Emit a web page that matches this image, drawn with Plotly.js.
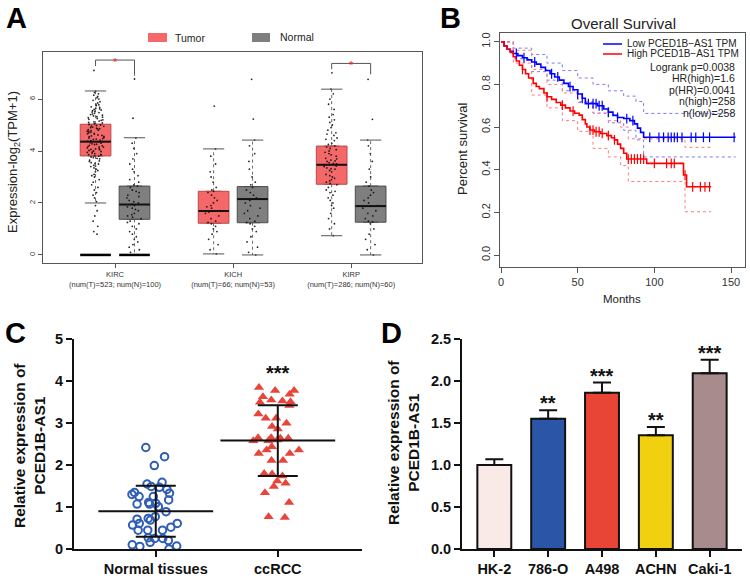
<!DOCTYPE html>
<html>
<head>
<meta charset="utf-8">
<script src="https://cdn.plot.ly/plotly-3.0.1.min.js"></script>
<style>html,body{margin:0;padding:0;background:#fff;}#chart{width:750px;height:578px;}</style>
</head>
<body>
<div id="chart"></div>
<script>
// ---------------- DATA ----------------
// Panel A (GEPIA box plots)
var cancerTypes = ["KIRC", "KICH", "KIRP"];
var cancerCounts = ["(num(T)=523; num(N)=100)", "(num(T)=66; num(N)=53)", "(num(T)=286; num(N)=60)"];
var tumorQ1 = [3.81, 1.22, 2.72];
var tumorMed = [4.36, 1.69, 3.47];
var tumorQ3 = [5.03, 2.45, 4.19];
var tumorUp = [6.31, 4.08, 6.38];
var tumorLo = [2.0, 0.04, 0.74];
var normalQ1 = [1.37, 1.24, 1.26];
var normalMed = [1.94, 2.15, 1.88];
var normalQ3 = [2.65, 2.63, 2.65];
var normalUp = [4.51, 4.42, 4.42];
var normalLo = [0, 0, 0];
var kircT = [7.1, 6.3, 6.25, 6.2, 6.15, 6.1, 6.05, 6.0, 5.95, 5.9, 5.85, 5.8, 5.78, 5.75, 5.7, 5.68, 5.65, 5.6, 5.58, 5.55, 5.5, 5.48, 5.45, 5.4, 5.38, 5.35, 5.3, 5.28, 5.25, 5.2, 5.18, 5.15, 5.1, 5.08, 5.05, 5.02, 5.0, 4.98, 4.95, 4.92, 4.9, 4.88, 4.85, 4.82, 4.8, 4.78, 4.75, 4.72, 4.7, 4.68, 4.65, 4.62, 4.6, 4.58, 4.55, 4.52, 4.5, 4.48, 4.45, 4.42, 4.4, 4.38, 4.35, 4.32, 4.3, 4.28, 4.25, 4.22, 4.2, 4.18, 4.15, 4.12, 4.1, 4.08, 4.05, 4.02, 4.0, 3.98, 3.95, 3.92, 3.9, 3.87, 3.85, 3.82, 3.8, 3.77, 3.75, 3.7, 3.65, 3.6, 3.55, 3.5, 3.45, 3.4, 3.35, 3.3, 3.25, 3.2, 3.1, 3.05, 3.0, 2.9, 2.8, 2.7, 2.6, 2.5, 2.4, 2.3, 2.2, 2.05, 1.9, 1.7, 1.5, 1.3, 1.1, 0.9, 0.8, 4.96, 4.86, 4.76, 4.66, 4.56, 4.46, 4.36, 4.26, 4.16, 4.06, 3.96, 3.86, 5.12, 5.22, 5.32, 5.42, 5.52, 5.62, 3.72, 3.62, 3.52, 3.42];
var kircN = [6.77, 5.26, 4.5, 4.3, 4.1, 3.9, 3.7, 3.5, 3.3, 3.2, 3.05, 2.9, 2.8, 2.7, 2.65, 2.6, 2.5, 2.45, 2.4, 2.3, 2.25, 2.2, 2.1, 2.05, 2.0, 1.95, 1.9, 1.85, 1.8, 1.75, 1.7, 1.6, 1.55, 1.5, 1.45, 1.4, 1.3, 1.25, 1.2, 1.1, 1.0, 0.9, 0.8, 0.7, 0.6, 0.5, 0.4, 0.3, 0.2, 0.1, 0.0];
var kichT = [5.73, 4.08, 3.8, 3.5, 3.2, 3.0, 2.8, 2.6, 2.5, 2.45, 2.4, 2.3, 2.2, 2.1, 2.0, 1.9, 1.85, 1.8, 1.7, 1.65, 1.6, 1.5, 1.4, 1.3, 1.25, 1.2, 1.1, 1.0, 0.9, 0.8, 0.6, 0.4, 0.2, 0.04];
var kichN = [6.76, 5.23, 4.42, 4.2, 3.9, 3.6, 3.3, 3.0, 2.8, 2.7, 2.6, 2.5, 2.4, 2.3, 2.2, 2.15, 2.1, 2.0, 1.9, 1.8, 1.7, 1.6, 1.5, 1.4, 1.3, 1.25, 1.2, 1.1, 1.0, 0.9, 0.7, 0.5, 0.3, 0.1, 0.0];
var kirpT = [7.01, 6.38, 6.2, 6.0, 5.8, 5.6, 5.4, 5.2, 5.0, 4.9, 4.8, 4.7, 4.6, 4.5, 4.4, 4.3, 4.25, 4.2, 4.1, 4.0, 3.95, 3.9, 3.85, 3.8, 3.7, 3.65, 3.6, 3.55, 3.5, 3.45, 3.4, 3.35, 3.3, 3.25, 3.2, 3.1, 3.0, 2.95, 2.9, 2.8, 2.75, 2.7, 2.6, 2.5, 2.4, 2.3, 2.2, 2.1, 2.0, 1.9, 1.8, 1.6, 1.4, 1.2, 1.0, 0.74, 3.52, 3.62, 3.72, 3.32, 3.42, 4.05, 4.15, 2.85, 3.05, 4.45, 4.65, 5.1, 5.3, 2.45];
var kirpN = [6.76, 5.22, 4.42, 4.2, 3.9, 3.6, 3.3, 3.0, 2.8, 2.65, 2.5, 2.4, 2.3, 2.2, 2.1, 2.0, 1.9, 1.88, 1.8, 1.7, 1.6, 1.5, 1.4, 1.3, 1.27, 1.2, 1.0, 0.8, 0.6, 0.4, 0.2, 0.0];
var bracketTop = [7.5, null, 7.37];
var bracketLeft = [7.27, null, 7.15];
var bracketRight = [6.9, null, 6.95];

// Panel B (Kaplan-Meier)
var lowT = [0, 2, 4, 6, 8, 11, 14, 17, 20, 23, 26, 29, 32, 35, 38, 41, 44, 47, 50, 53, 55, 63, 67, 70, 73, 76, 80, 84, 87, 89, 91, 93, 153];
var lowS = [1.0, 0.98, 0.965, 0.955, 0.945, 0.935, 0.925, 0.915, 0.905, 0.895, 0.88, 0.865, 0.85, 0.835, 0.82, 0.805, 0.79, 0.775, 0.755, 0.735, 0.71, 0.70, 0.685, 0.67, 0.655, 0.645, 0.64, 0.63, 0.615, 0.595, 0.575, 0.552, 0.552];
var highT = [0, 2, 4, 6, 8, 10, 12, 14, 16, 18, 21, 23, 25, 28, 30, 33, 36, 39, 42, 45, 48, 51, 53, 55, 56, 58, 61, 65, 69, 72, 74, 76, 78, 80, 82, 95, 119, 121, 137];
var highS = [1.0, 0.98, 0.965, 0.95, 0.93, 0.91, 0.89, 0.87, 0.85, 0.83, 0.805, 0.79, 0.78, 0.76, 0.742, 0.73, 0.715, 0.703, 0.69, 0.675, 0.665, 0.656, 0.635, 0.615, 0.6, 0.586, 0.578, 0.57, 0.56, 0.55, 0.54, 0.52, 0.5, 0.477, 0.45, 0.43, 0.375, 0.32, 0.32];
var lowCiT = [0, 8, 20, 30, 40, 50, 60, 70, 80, 88, 93, 153];
var lowUp = [1.0, 0.97, 0.94, 0.9, 0.865, 0.83, 0.8, 0.77, 0.745, 0.72, 0.664, 0.664];
var lowLo = [1.0, 0.92, 0.86, 0.82, 0.77, 0.715, 0.665, 0.62, 0.585, 0.54, 0.46, 0.46];
var highCiT = [0, 8, 20, 30, 40, 50, 60, 70, 78, 83, 120, 137];
var highUp = [1.0, 0.96, 0.87, 0.8, 0.76, 0.72, 0.665, 0.63, 0.6, 0.545, 0.505, 0.505];
var highLo = [1.0, 0.9, 0.75, 0.69, 0.63, 0.58, 0.5, 0.46, 0.42, 0.345, 0.203, 0.203];
var lowCensor = [10, 15, 22, 33, 37, 45, 50, 53, 57, 60, 62, 64, 66, 70, 76, 82, 86, 97, 103, 106, 109, 111, 113, 115, 118, 124, 127, 132, 136, 152];
var highCensor = [14, 30, 40, 47, 58, 60, 62, 64, 66, 70, 74, 83, 85, 87, 89, 91, 93, 100, 108, 111, 113, 120, 125, 130, 133, 136];
var kmLegend = ["Low PCED1B\u2212AS1 TPM", "High PCED1B\u2212AS1 TPM"];
var kmStats = ["Logrank p=0.0038", "HR(high)=1.6", "p(HR)=0.0041", "n(high)=258", "n(low)=258"];

// Panel C (tissues scatter)
var tissueGroups = ["Normal tissues", "ccRCC"];
var normalTissue = [1.49, 1.33, 1.09, 0.52, 0.25, 0.06, 1.47, 1.25, 1.07, 0.71, 0.57, 0.16, 2.42, 2.2, 1.99, 1.55, 1.35, 1.17, 1.01, 0.69, 0.45, 0.27, 0.07, 1.42, 1.25, 1.07, 0.89, 0.73, 0.61, 0.45, 0.25, 0.10, 1.59, 1.30, 1.11, 0.77, 0.61, 0.45, 0.20, 0.0];
var ccrcc = [3.78, 3.78, 3.85, 3.69, 3.63, 3.55, 3.51, 3.53, 3.42, 3.50, 3.12, 3.22, 3.12, 2.86, 2.92, 3.0, 2.65, 2.58, 2.58, 2.64, 2.65, 2.64, 2.6, 2.28, 2.36, 2.36, 2.44, 2.28, 2.11, 2.11, 1.79, 1.80, 1.74, 1.57, 1.62, 1.49, 1.34, 1.11, 0.75, 0.77];
var tissueMean = [0.90, 2.585];
var tissueSD = [0.61, 0.845];

// Panel D (cell lines)
var cellLines = ["HK-2", "786-O", "A498", "ACHN", "Caki-1"];
var cellExpr = [1.0, 1.554, 1.864, 1.355, 2.095];
var cellErr = [0.07, 0.10, 0.12, 0.10, 0.16];
var cellSig = ["", "**", "***", "**", "***"];
var cellColors = ["#F9E9E7", "#2B56A8", "#E84536", "#F1D10F", "#A78B8D"];

// ---------------- HELPERS ----------------
function px(x) { return x / 750; }
function py(y) { return 1 - y / 578; }
function stepAt(ts, ss, t) { var v = ss[0]; for (var i = 0; i < ts.length; i++) { if (ts[i] <= t) v = ss[i]; } return v; }

var traces = [];
var groupPos = [1, 2, 3];
var off = 0.165, bw = 0.26, capw = 0.09;
var tPos = groupPos.map(function (g) { return g - off; });
var nPos = groupPos.map(function (g) { return g + off; });
var tumorFill = "#F5686A", tumorLine = "#B84A4A", normalFill = "#7F7F7F", normalLine = "#4D4D4D";

function addBoxSet(pos, q1, med, q3, up, lo, fill, lcol) {
  traces.push({ type: "box", xaxis: "x", yaxis: "y", x: pos, q1: q1, median: med, q3: q3, lowerfence: q1, upperfence: q3,
    width: bw, fillcolor: fill, line: { color: lcol, width: 1 }, boxpoints: false, hoverinfo: "skip" });
  var wx = [], wy = [], cx = [], cy = [], mx = [], my = [];
  for (var i = 0; i < pos.length; i++) {
    wx.push(pos[i], pos[i], null, pos[i], pos[i], null); wy.push(q3[i], up[i], null, q1[i], lo[i], null);
    cx.push(pos[i] - capw, pos[i] + capw, null, pos[i] - capw, pos[i] + capw, null); cy.push(up[i], up[i], null, lo[i], lo[i], null);
    mx.push(pos[i] - bw / 2, pos[i] + bw / 2, null); my.push(med[i], med[i], null);
  }
  traces.push({ type: "scatter", mode: "lines", x: wx, y: wy, line: { color: "#444", width: 0.8, dash: "dot" }, hoverinfo: "skip" });
  traces.push({ type: "scatter", mode: "lines", x: cx, y: cy, line: { color: "#555", width: 1 }, hoverinfo: "skip" });
  traces.push({ type: "scatter", mode: "lines", x: mx, y: my, line: { color: "#111", width: 2 }, hoverinfo: "skip" });
}
addBoxSet(tPos, tumorQ1, tumorMed, tumorQ3, tumorUp, tumorLo, tumorFill, tumorLine);
addBoxSet(nPos, normalQ1, normalMed, normalQ3, normalUp, normalLo, normalFill, normalLine);

// zero lines for KIRC
traces.push({ type: "scatter", mode: "lines", x: [tPos[0] - bw / 2, tPos[0] + bw / 2, null, nPos[0] - bw / 2, nPos[0] + bw / 2],
  y: [0, 0, null, 0, 0], line: { color: "#000", width: 2.5 }, hoverinfo: "skip" });

// jittered points
var ptsSets = [[kircT, tPos[0]], [kircN, nPos[0]], [kichT, tPos[1]], [kichN, nPos[1]], [kirpT, tPos[2]], [kirpN, nPos[2]]];
ptsSets.forEach(function (p) {
  traces.push({ type: "box", xaxis: "x", yaxis: "y", y: p[0], x0: p[1], width: bw, boxpoints: "all", jitter: 0.55, pointpos: 0,
    fillcolor: "rgba(0,0,0,0)", line: { width: 0, color: "rgba(0,0,0,0)" }, marker: { color: "#111", size: 1.8, opacity: 0.9 }, hoverinfo: "skip" });
});

// significance brackets
var bx = [], by = [];
for (var i = 0; i < groupPos.length; i++) {
  if (bracketTop[i] === null) continue;
  bx.push(tPos[i], tPos[i], nPos[i], nPos[i], null);
  by.push(bracketLeft[i], bracketTop[i], bracketTop[i], bracketRight[i], null);
}
traces.push({ type: "scatter", mode: "lines", x: bx, y: by, line: { color: "#555", width: 1 }, hoverinfo: "skip" });

// Panel B traces
function km(xs, ys, color, width, dash) {
  return { type: "scatter", mode: "lines", xaxis: "x2", yaxis: "y2", x: xs, y: ys, line: { color: color, width: width, dash: dash || "solid", shape: "hv" }, hoverinfo: "skip" };
}
traces.push(km(lowCiT, lowUp, "#7A7AFF", 1, "dot"));
traces.push(km(lowCiT, lowLo, "#7A7AFF", 1, "dot"));
traces.push(km(highCiT, highUp, "#FF7A7A", 1, "dot"));
traces.push(km(highCiT, highLo, "#FF7A7A", 1, "dot"));
traces.push(km(lowT, lowS, "#0000FF", 1.6));
traces.push(km(highT, highS, "#FF0000", 1.6));
traces.push({ type: "scatter", mode: "markers", xaxis: "x2", yaxis: "y2", x: lowCensor, y: lowCensor.map(function (t) { return stepAt(lowT, lowS, t); }),
  marker: { symbol: "line-ns-open", size: 7, color: "#0000FF", line: { color: "#0000FF", width: 1.2 } }, hoverinfo: "skip" });
traces.push({ type: "scatter", mode: "markers", xaxis: "x2", yaxis: "y2", x: highCensor, y: highCensor.map(function (t) { return stepAt(highT, highS, t); }),
  marker: { symbol: "line-ns-open", size: 7, color: "#FF0000", line: { color: "#FF0000", width: 1.2 } }, hoverinfo: "skip" });

// Panel C traces
traces.push({ type: "box", xaxis: "x3", yaxis: "y3", y: normalTissue, x0: 0, width: 0.55, boxpoints: "all", jitter: 0.85, pointpos: 0,
  fillcolor: "rgba(0,0,0,0)", line: { width: 0, color: "rgba(0,0,0,0)" }, marker: { symbol: "circle-open", color: "#2F5EB4", size: 7.5, line: { width: 2, color: "#2F5EB4" } }, hoverinfo: "skip" });
traces.push({ type: "box", xaxis: "x3", yaxis: "y3", y: ccrcc, x0: 1, width: 0.55, boxpoints: "all", jitter: 0.85, pointpos: 0,
  fillcolor: "rgba(0,0,0,0)", line: { width: 0, color: "rgba(0,0,0,0)" }, marker: { symbol: "triangle-up", color: "#E8443A", size: 9, line: { width: 0 } }, hoverinfo: "skip" });
traces.push({ type: "scatter", mode: "markers", xaxis: "x3", yaxis: "y3", x: [0, 1], y: tissueMean,
  marker: { symbol: "line-ew-open", size: 82, color: "#111", line: { color: "#111", width: 2 } },
  error_y: { type: "data", array: tissueSD, visible: true, color: "#111", thickness: 2, width: 20 }, hoverinfo: "skip" });

// Panel D traces
traces.push({ type: "bar", xaxis: "x4", yaxis: "y4", x: [0, 1, 2, 3, 4], y: cellExpr, width: 0.63,
  marker: { color: cellColors, line: { color: "#111", width: 2 } },
  error_y: { type: "data", symmetric: false, array: cellErr, arrayminus: cellErr.map(function () { return 0; }), visible: true, color: "#111", thickness: 2, width: 9 }, hoverinfo: "skip" });

// ---------------- LAYOUT ----------------
var annotations = [];
function ann(o) { annotations.push(Object.assign({ showarrow: false, xref: "paper", yref: "paper", xanchor: "center", yanchor: "middle" }, o)); }
var F = "Liberation Sans, Arial, sans-serif";
// panel letters
ann({ text: "<b>A</b>", x: px(16), y: py(18), font: { family: F, size: 29, color: "#000" } });
ann({ text: "<b>B</b>", x: px(450), y: py(18), font: { family: F, size: 29, color: "#000" } });
ann({ text: "<b>C</b>", x: px(15), y: py(333), font: { family: F, size: 29, color: "#000" } });
ann({ text: "<b>D</b>", x: px(391), y: py(333), font: { family: F, size: 29, color: "#000" } });
// A legend
ann({ text: "Tumor", x: px(173), y: py(38), xanchor: "left", font: { family: F, size: 10.5, color: "#222" } });
ann({ text: "Normal", x: px(278), y: py(37.5), xanchor: "left", font: { family: F, size: 10.5, color: "#222" } });
ann({ text: "Expression-log<sub>2</sub>(TPM+1)", x: px(13), y: py(162), textangle: -90, font: { family: F, size: 13, color: "#222" } });
// stars on brackets
for (var i = 0; i < groupPos.length; i++) {
  if (bracketTop[i] === null) continue;
  annotations.push({ text: "*", x: groupPos[i], y: bracketTop[i], xref: "x", yref: "y", showarrow: false, xanchor: "center", yanchor: "middle", yshift: -2, font: { family: F, size: 11, color: "#FF2020" } });
}
// B texts
ann({ text: "Overall Survival", x: px(623), y: py(23), font: { family: F, size: 15, color: "#222" } });
ann({ text: "Percent survival", x: px(463), y: py(148), textangle: -90, font: { family: F, size: 13, color: "#222" } });
ann({ text: "Months", x: px(622), y: py(299), font: { family: F, size: 11.5, color: "#222" } });
ann({ text: kmLegend[0], x: px(625), y: py(43.5), xanchor: "left", font: { family: F, size: 10, color: "#222" } });
ann({ text: kmLegend[1], x: px(625), y: py(54), xanchor: "left", font: { family: F, size: 10, color: "#222" } });
kmStats.forEach(function (s, k) {
  ann({ text: s, x: px(737), y: py(66.5 + k * 11.6), xanchor: "right", font: { family: F, size: 10.5, color: "#222" } });
});
// C texts
ann({ text: "<b>Relative expression of<br>PCED1B-AS1</b>", x: px(29), y: py(446), textangle: -90, font: { family: F, size: 15.5, color: "#111" } });
annotations.push({ text: "<b>***</b>", x: 1, y: 4.32, xref: "x3", yref: "y3", showarrow: false, xanchor: "center", yanchor: "middle", yshift: -5, font: { family: F, size: 20, color: "#111" } });
// D texts
ann({ text: "<b>Relative expression of<br>PCED1B-AS1</b>", x: px(403), y: py(443), textangle: -90, font: { family: F, size: 15.5, color: "#111" } });
for (var j = 0; j < cellLines.length; j++) {
  if (!cellSig[j]) continue;
  annotations.push({ text: "<b>" + cellSig[j] + "</b>", x: j, y: cellExpr[j] + cellErr[j], xref: "x4", yref: "y4", showarrow: false, xanchor: "center", yanchor: "bottom", yshift: -6, font: { family: F, size: 20, color: "#111" } });
}

var shapes = [
  { type: "rect", xref: "paper", yref: "paper", x0: px(148), x1: px(167), y0: py(42), y1: py(33), fillcolor: tumorFill, line: { width: 0 } },
  { type: "rect", xref: "paper", yref: "paper", x0: px(252), x1: px(270), y0: py(42), y1: py(33), fillcolor: normalFill, line: { width: 0 } },
  { type: "line", xref: "paper", yref: "paper", x0: px(603), x1: px(622), y0: py(44), y1: py(44), line: { color: "#0000FF", width: 1.5 } },
  { type: "line", xref: "paper", yref: "paper", x0: px(603), x1: px(622), y0: py(54), y1: py(54), line: { color: "#FF0000", width: 1.5 } }
];

var rAxis = { showline: true, mirror: true, linecolor: "#555", linewidth: 1, zeroline: false, showgrid: false, ticks: "outside", ticklen: 4, tickcolor: "#555" };
var gAxis = { showline: true, linecolor: "#111", linewidth: 2, zeroline: false, showgrid: false, ticks: "outside", ticklen: 6, tickwidth: 2, tickcolor: "#111",
  tickfont: { family: F, size: 14.5, color: "#111", weight: "bold" } };

var layout = {
  width: 750, height: 578, margin: { l: 0, r: 0, t: 0, b: 0 }, paper_bgcolor: "#fff", plot_bgcolor: "rgba(0,0,0,0)",
  showlegend: false, font: { family: F },
  xaxis: Object.assign({}, rAxis, { domain: [px(43), px(422)], range: [0.39, 3.6], tickvals: groupPos,
    ticktext: cancerTypes.map(function (c, k) { return c + "<br>" + cancerCounts[k]; }), tickfont: { family: F, size: 7.5, color: "#333" } }),
  yaxis: Object.assign({}, rAxis, { domain: [py(263), py(52)], range: [-0.31, 7.81], tickvals: [0, 2, 4, 6], tickangle: -90, tickfont: { family: F, size: 7.5, color: "#333" } }),
  xaxis2: Object.assign({}, rAxis, { anchor: "y2", domain: [px(500), px(745)], range: [-0.65, 159.1], tickvals: [0, 50, 100, 150], ticklen: 5, tickfont: { family: F, size: 11, color: "#333" } }),
  yaxis2: Object.assign({}, rAxis, { anchor: "x2", domain: [py(267), py(33)], range: [-0.056, 1.041], tickvals: [0, 0.2, 0.4, 0.6, 0.8, 1.0], tickformat: ".1f", ticklen: 5, tickangle: -90, tickfont: { family: F, size: 11, color: "#333" } }),
  xaxis3: Object.assign({}, gAxis, { anchor: "y3", type: "linear", domain: [px(74), px(362)], range: [-0.67, 1.69], tickvals: [0, 1], ticktext: tissueGroups.map(function (t) { return t; }) }),
  yaxis3: Object.assign({}, gAxis, { anchor: "x3", domain: [py(549), py(339.3)], range: [0, 5], tickvals: [0, 1, 2, 3, 4, 5] }),
  xaxis4: Object.assign({}, gAxis, { anchor: "y4", type: "linear", domain: [px(462), px(742)], range: [-0.6, 4.6], tickvals: [0, 1, 2, 3, 4], ticktext: cellLines }),
  yaxis4: Object.assign({}, gAxis, { anchor: "x4", domain: [py(549), py(339.3)], range: [0, 2.5], tickvals: [0, 0.5, 1, 1.5, 2, 2.5], tickformat: ".1f" }),
  annotations: annotations, shapes: shapes
};

Plotly.newPlot("chart", traces, layout, { staticPlot: true, displayModeBar: false });
</script>
</body>
</html>
